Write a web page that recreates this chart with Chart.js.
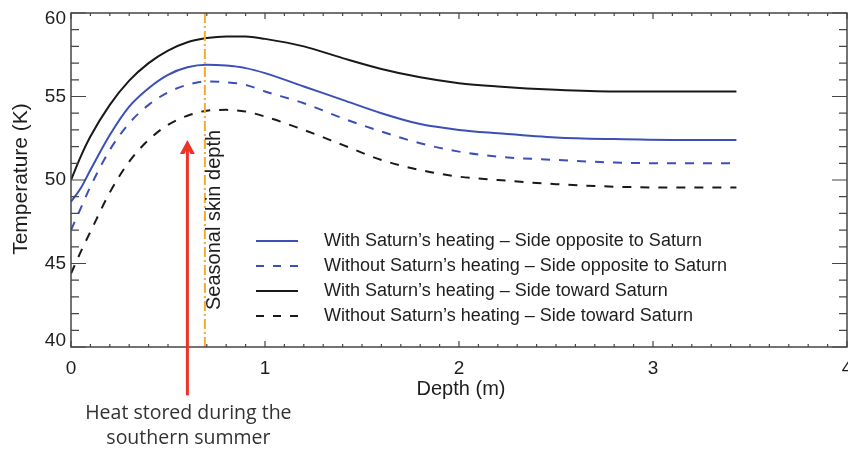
<!DOCTYPE html>
<html>
<head>
<meta charset="utf-8">
<script src="https://cdn.jsdelivr.net/npm/chart.js@4/dist/chart.umd.min.js"></script>
<style>
  html, body { margin: 0; padding: 0; background: #fff; }
</style>
</head>
<body>
<canvas id="graph" width="848" height="453"></canvas>
<script>
// depth in metres, temperature in K
const depth =           [0,    0.05, 0.1,  0.2,   0.3,   0.4,  0.5,   0.6,   0.7,   0.8,   0.9,  1.0,   1.2,  1.4,  1.6,   1.8,   2.0,  2.2,  2.5,   2.8,   3.1,  3.43]
const withOpposite =    [48.7, 49.5, 50.6, 52.7,  54.4,  55.5, 56.3,  56.75, 56.9,  56.85, 56.7, 56.4,  55.6, 54.8, 54.0,  53.35, 53.0, 52.8, 52.55, 52.45, 52.4, 52.4]
const withoutOpposite = [47.0, 48.3, 49.6, 51.8,  53.4,  54.5, 55.25, 55.7,  55.9,  55.85, 55.7, 55.3,  54.6, 53.7, 52.9,  52.2,  51.7, 51.4, 51.2,  51.05, 51.0, 51.0]
const withToward =      [50.0, 51.4, 52.6, 54.5,  55.95, 57.0, 57.75, 58.25, 58.5,  58.6,  58.6, 58.45, 58.0, 57.3, 56.65, 56.15, 55.8, 55.6, 55.4,  55.3,  55.3, 55.3]
const withoutToward =   [44.4, 45.7, 46.9, 49.25, 51.1,  52.4, 53.3,  53.85, 54.15, 54.2,  54.1, 53.8,  53.0, 52.1, 51.2,  50.6,  50.2, 50.0, 49.75, 49.6,  49.55,49.55]

const seriesLabels = [
    "With Saturn\u2019s heating \u2013 Side opposite to Saturn",
    "Without Saturn\u2019s heating \u2013 Side opposite to Saturn",
    "With Saturn\u2019s heating \u2013 Side toward Saturn",
    "Without Saturn\u2019s heating \u2013 Side toward Saturn"
]

const xTickLabels = [0, 1, 2, 3, 4]
const yTickLabels = [40, 45, 50, 55, 60]

// annotations (data units)
const skinDepth = 0.69
const skinLabel = "Seasonal skin depth"
const arrowDepth = 0.6
const arrowTipTemp = 52.4
const arrowBaseTemp = 37.1
const arrowText = ["Heat stored during the", "southern summer"]

const blue =   'rgb(59, 79, 184)'
const black =  'rgb(25, 25, 25)'
const orange = 'rgb(247, 168, 50)'
const red =    'rgb(238, 50, 40)'
const axisGrey = 'rgb(70, 70, 70)'
const textDark = 'rgb(30, 30, 30)'

function points(ys) {
    return depth.map((d, i) => ({x: d, y: ys[i]}))
}

const dashes = [9, 9]

// ticks, frame, legend and notes drawn by hand
const decorations = {
    id: 'decorations',
    afterDatasetsDraw(chart) {
        const ctx = chart.ctx
        const a = chart.chartArea
        const xs = chart.scales.x
        const ys = chart.scales.y
        ctx.save()

        // orange skin depth line
        const sx = xs.getPixelForValue(skinDepth)
        ctx.strokeStyle = orange
        ctx.lineWidth = 2
        ctx.setLineDash([10, 3, 2, 3])
        ctx.beginPath()
        ctx.moveTo(sx, a.top)
        ctx.lineTo(sx, a.bottom)
        ctx.stroke()
        ctx.setLineDash([])

        // skin depth label
        ctx.save()
        ctx.translate(sx + 10, 220)
        ctx.rotate(-Math.PI / 2)
        ctx.fillStyle = textDark
        ctx.font = '20px "Liberation Sans", Arial, sans-serif'
        ctx.textAlign = 'center'
        ctx.textBaseline = 'middle'
        ctx.fillText(skinLabel, 0, 0)
        ctx.restore()

        // frame
        ctx.strokeStyle = axisGrey
        ctx.lineWidth = 1.5
        ctx.strokeRect(a.left, a.top, a.right - a.left, a.bottom - a.top)

        // x ticks, bottom and top
        ctx.lineWidth = 1.2
        for (let i = 0; i <= 40; i++) {
            const v = i / 10
            const px = xs.getPixelForValue(v)
            const len = (i % 10 === 0) ? 6 : 3
            ctx.beginPath()
            ctx.moveTo(px, a.bottom); ctx.lineTo(px, a.bottom - len)
            ctx.moveTo(px, a.top); ctx.lineTo(px, a.top + len)
            ctx.stroke()
        }
        // y ticks, left and right
        for (let v = 40; v <= 60; v++) {
            const py = ys.getPixelForValue(v)
            const len = (v % 5 === 0) ? 15 : 8
            ctx.beginPath()
            ctx.moveTo(a.left, py); ctx.lineTo(a.left + len, py)
            ctx.moveTo(a.right, py); ctx.lineTo(a.right - len, py)
            ctx.stroke()
        }

        // tick labels
        ctx.fillStyle = textDark
        ctx.font = '19px "Liberation Sans", Arial, sans-serif'
        ctx.textAlign = 'center'
        ctx.textBaseline = 'middle'
        xTickLabels.forEach(v => ctx.fillText(String(v), xs.getPixelForValue(v), a.bottom + 22))
        ctx.textAlign = 'right'
        yTickLabels.forEach(v => {
            const py = Math.min(Math.max(ys.getPixelForValue(v), a.top + 6), a.bottom - 6)
            ctx.fillText(String(v), a.left - 5, py)
        })

        // axis titles
        ctx.textAlign = 'center'
        ctx.font = '20px "Liberation Sans", Arial, sans-serif'
        ctx.fillText('Depth (m)', 461, 389)
        ctx.save()
        ctx.translate(21, 179)
        ctx.rotate(-Math.PI / 2)
        ctx.font = '21px "Liberation Sans", Arial, sans-serif'
        ctx.fillText('Temperature (K)', 0, 0)
        ctx.restore()

        // legend
        ctx.font = '18px "Liberation Sans", Arial, sans-serif'
        ctx.textAlign = 'left'
        chart.data.datasets.forEach((ds, i) => {
            const ly = 241 + i * 25
            ctx.strokeStyle = ds.borderColor
            ctx.lineWidth = 2
            ctx.setLineDash(ds.borderDash ? [8, 9] : [])
            ctx.beginPath()
            ctx.moveTo(256, ly); ctx.lineTo(298, ly)
            ctx.stroke()
            ctx.setLineDash([])
            ctx.fillStyle = textDark
            ctx.fillText(ds.label, 324, ly)
        })

        // red arrow
        const ax = xs.getPixelForValue(arrowDepth)
        const tipY = ys.getPixelForValue(arrowTipTemp)
        const baseY = ys.getPixelForValue(arrowBaseTemp)
        ctx.strokeStyle = red
        ctx.fillStyle = red
        ctx.lineWidth = 3
        ctx.beginPath()
        ctx.moveTo(ax, baseY); ctx.lineTo(ax, tipY + 10)
        ctx.stroke()
        ctx.beginPath()
        ctx.moveTo(ax, tipY)
        ctx.lineTo(ax - 7.5, tipY + 14)
        ctx.lineTo(ax - 3, tipY + 14)
        ctx.lineTo(ax - 1.5, tipY + 11)
        ctx.lineTo(ax + 1.5, tipY + 11)
        ctx.lineTo(ax + 3, tipY + 14)
        ctx.lineTo(ax + 7.5, tipY + 14)
        ctx.closePath()
        ctx.fill()

        // note under the arrow
        ctx.fillStyle = 'rgb(50, 50, 50)'
        ctx.font = '19.5px "Open Sans", "Noto Sans", sans-serif'
        ctx.textAlign = 'center'
        ctx.fillText(arrowText[0], ax + 1, baseY + 18)
        ctx.fillText(arrowText[1], ax + 1, baseY + 43)

        ctx.restore()
    }
}

const ctx = document.getElementById('graph')
const myChart = new Chart(ctx, {
    type: 'line',
    data: {
        datasets: [
            {label: seriesLabels[0], data: points(withOpposite), borderColor: blue, borderWidth: 2},
            {label: seriesLabels[1], data: points(withoutOpposite), borderColor: blue, borderWidth: 2, borderDash: dashes},
            {label: seriesLabels[2], data: points(withToward), borderColor: black, borderWidth: 2},
            {label: seriesLabels[3], data: points(withoutToward), borderColor: black, borderWidth: 2, borderDash: dashes}
        ]
    },
    options: {
        responsive: false,
        animation: false,
        events: [],
        layout: {padding: {top: 13, right: 1, left: 0, bottom: 0}},
        elements: {
            point: {radius: 0},
            line: {cubicInterpolationMode: 'monotone', fill: false}
        },
        plugins: {
            legend: {display: false},
            tooltip: {enabled: false}
        },
        scales: {
            x: {
                type: 'linear',
                min: 0,
                max: 4,
                grid: {display: false, drawTicks: false},
                border: {display: false},
                ticks: {display: false},
                afterFit(s) { s.height = 106 }
            },
            y: {
                min: 40,
                max: 60,
                grid: {display: false, drawTicks: false},
                border: {display: false},
                ticks: {display: false},
                afterFit(s) { s.width = 71 }
            }
        }
    },
    plugins: [decorations]
})
</script>
</body>
</html>
